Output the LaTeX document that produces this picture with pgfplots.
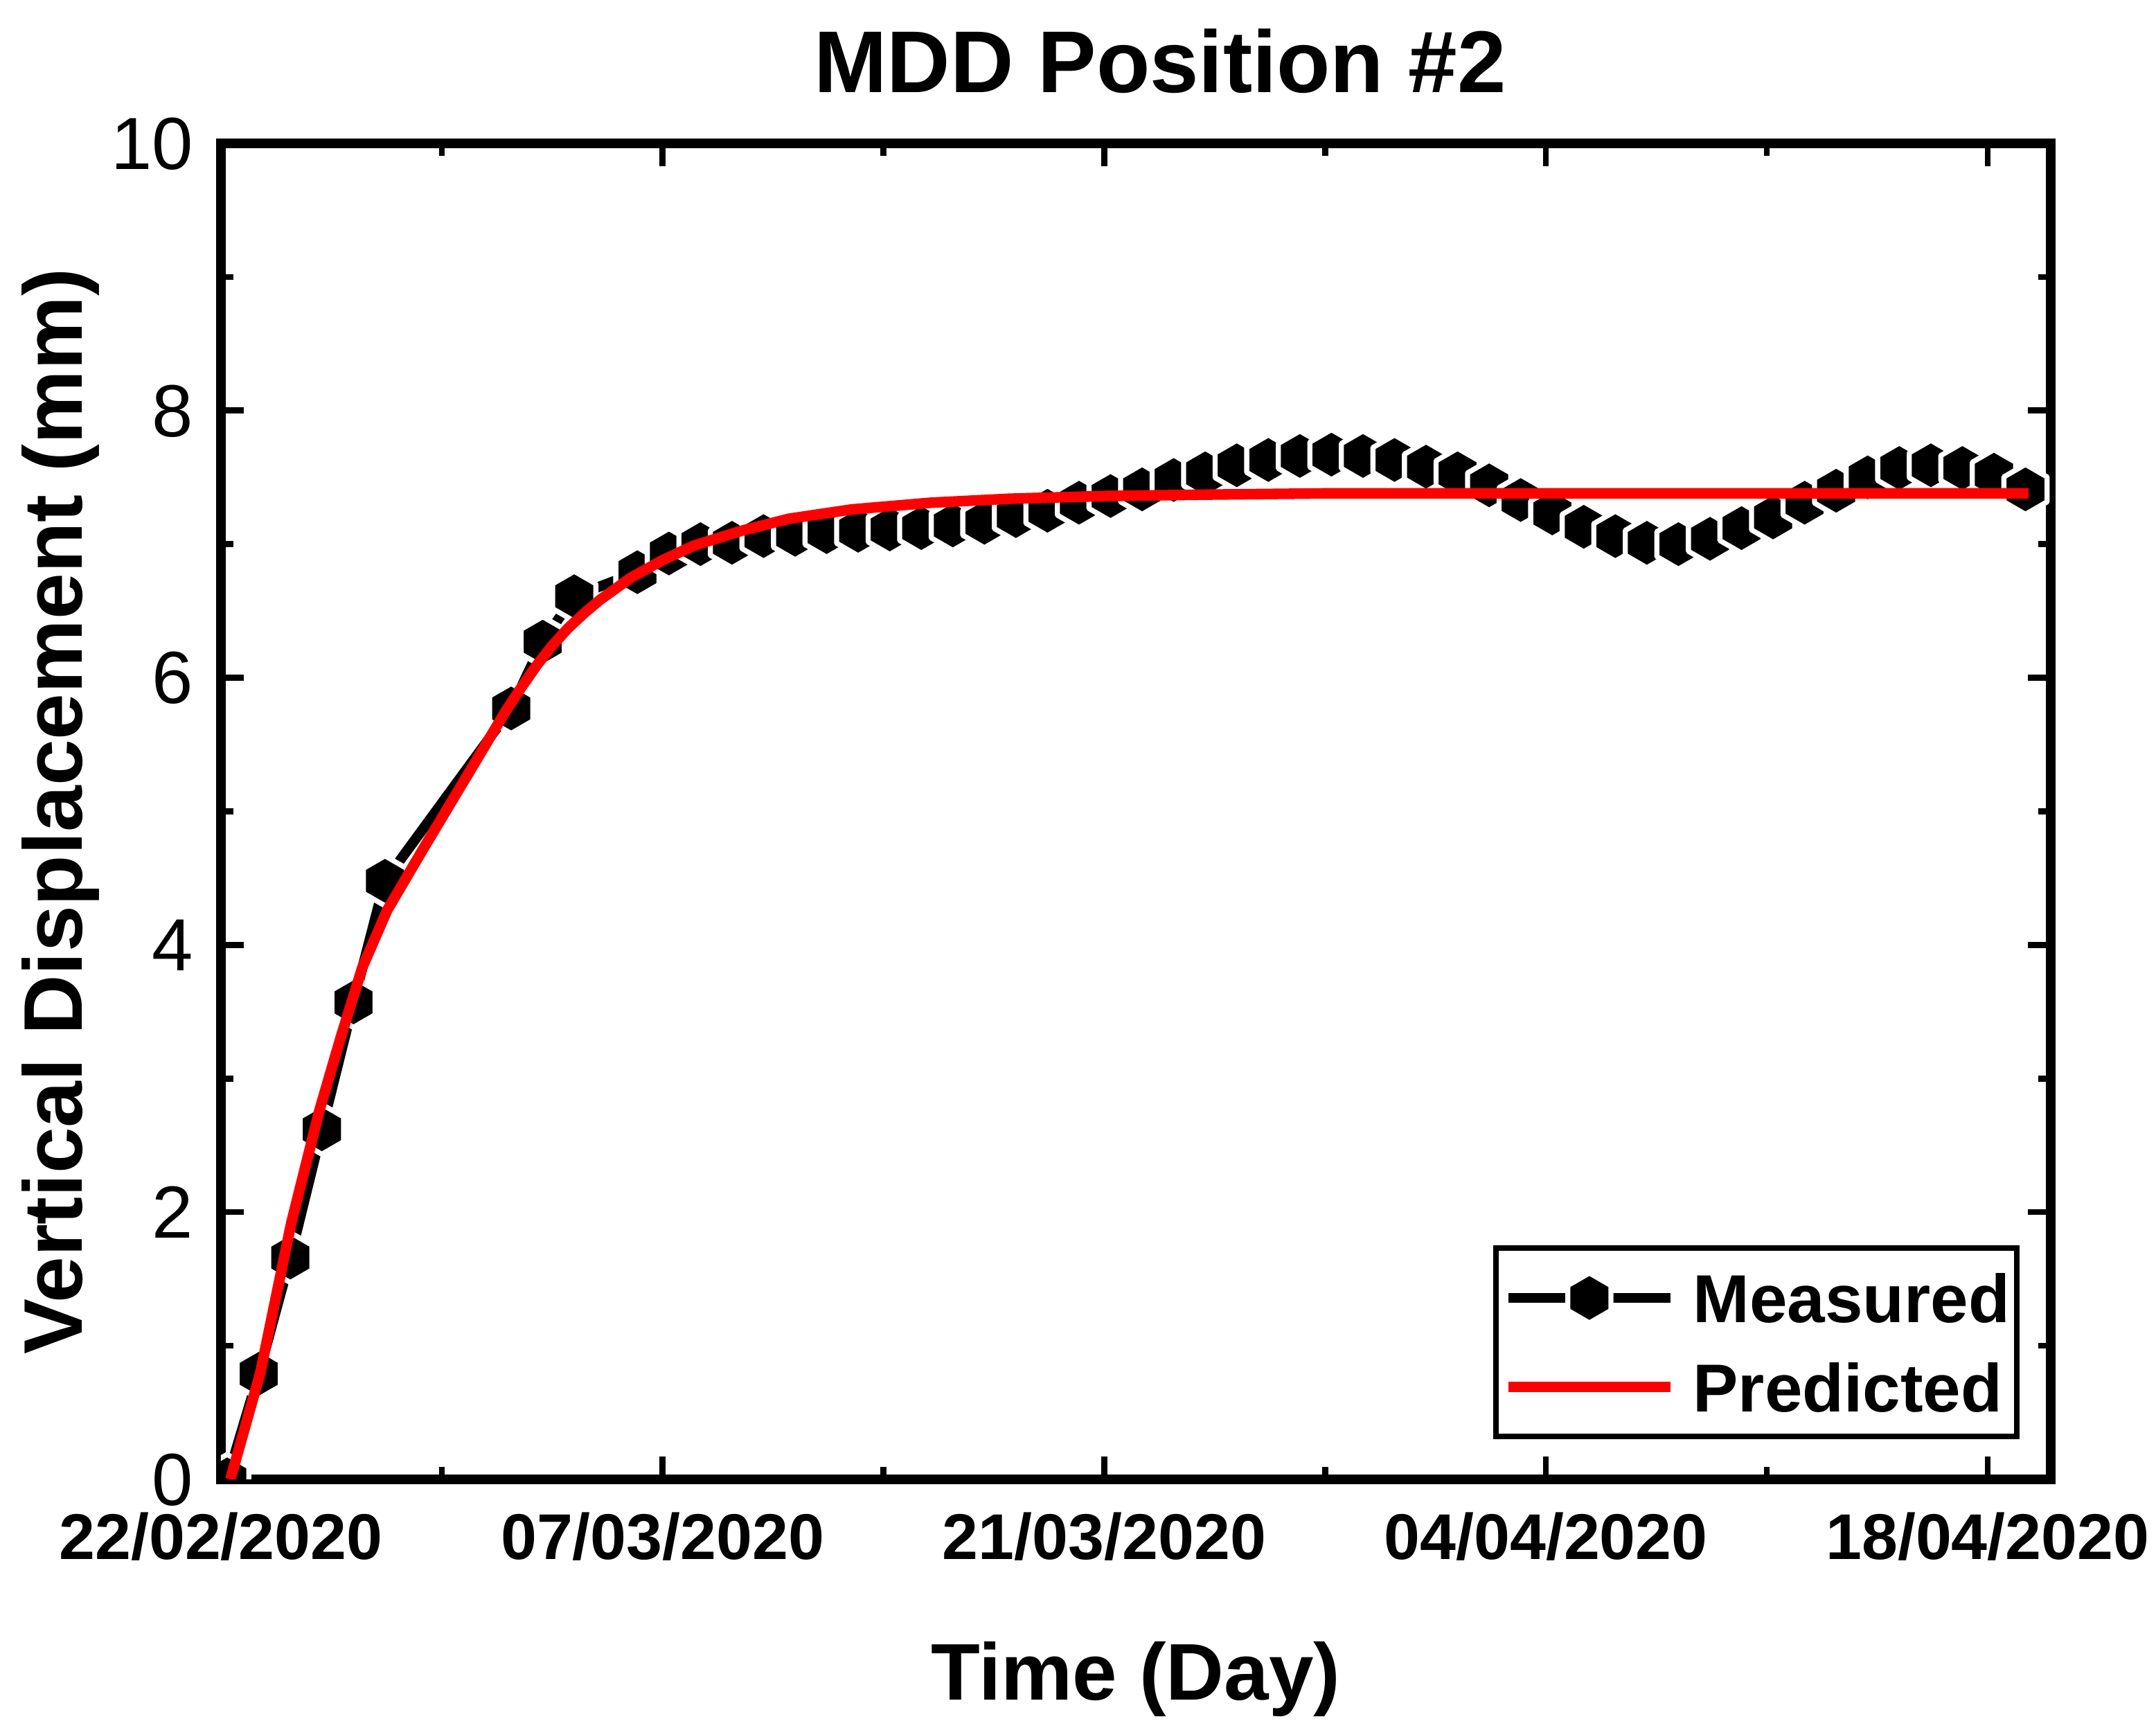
\documentclass[border=0pt]{standalone}
\usepackage{fontspec}
\setmainfont{Liberation Sans}
\usepackage{pgfplots}
\pgfplotsset{compat=1.18}
\usetikzlibrary{plotmarks}

% filled hexagon, vertex up
\pgfdeclareplotmark{hexagon*}{%
  \pgfpathmoveto{\pgfpointpolar{90}{\pgfplotmarksize}}%
  \pgfpathlineto{\pgfpointpolar{150}{\pgfplotmarksize}}%
  \pgfpathlineto{\pgfpointpolar{210}{\pgfplotmarksize}}%
  \pgfpathlineto{\pgfpointpolar{270}{\pgfplotmarksize}}%
  \pgfpathlineto{\pgfpointpolar{330}{\pgfplotmarksize}}%
  \pgfpathlineto{\pgfpointpolar{30}{\pgfplotmarksize}}%
  \pgfpathclose
  \pgfusepathqfillstroke
}
\definecolor{pred}{RGB}{255,0,0}

\begin{document}
\begin{tikzpicture}
\useasboundingbox (-47.85pt,-53.85pt) rectangle (419.1pt,320.4pt);
\begin{axis}[
    scale only axis,
    width=396.3pt, height=289.35pt,
    xmin=0, xmax=58, ymin=0, ymax=10,
    xtick={0,14,28,42,56},
    xticklabels={22/02/2020,07/03/2020,21/03/2020,04/04/2020,18/04/2020},
    minor xtick={7,21,35,49},
    ytick={0,2,4,6,8,10},
    minor ytick={1,3,5,7,9},
    tick align=inside,
    major tick length=5pt, minor tick length=2.7pt,
    every tick/.style={black, line width=1.3pt},
    axis line style={line width=2pt},
    /pgf/number format/assume math mode=true,
    xticklabel style={font=\fontsize{14}{16}\selectfont\bfseries, inner sep=0pt, yshift=-7pt},
    yticklabel style={font=\fontsize{16}{18}\selectfont, inner sep=0pt, text depth=0pt, xshift=-5.85pt},
    xlabel={Time (Day)},
    xlabel style={font=\fontsize{17.4}{20}\selectfont\bfseries, at={(axis description cs:0.5,-0.121)}, anchor=north, inner sep=0pt},
    ylabel={Vertical Displacement (mm)},
    ylabel style={font=\fontsize{18}{20}\selectfont\bfseries, at={(axis description cs:-0.1094,0.5)}, anchor=north, inner sep=0pt},
    title={MDD Position \#2},
    every axis title shift=0pt,
    title style={font=\fontsize{19}{22}\selectfont\bfseries, at={(axis description cs:0.5132,1)}, anchor=base, yshift=10.95pt, inner sep=0pt},
    clip marker paths=true,
    legend cell align=left,
    legend image code/.code={\draw[mark repeat=2,mark phase=2,#1] plot coordinates {(0pt,0pt) (17.6pt,0pt) (35.2pt,0pt)};},
    legend style={at={(axis description cs:0.983,0.030)}, anchor=south east,
        draw=black, line width=1.2pt, inner xsep=1.5pt, inner ysep=5.4pt, row sep=8.6pt,
        font=\fontsize{14.7}{17}\selectfont\bfseries,
        nodes={inner sep=0pt, text height=10.6pt, text depth=0pt},
        /tikz/every odd column/.append style={column sep=3.7pt}},
]
% measured, one reading a day
\addplot[black, line width=2.2pt, line join=round, mark=hexagon*, mark size=5.4pt,
    mark options={fill=black, draw=white, line width=1.1pt, solid}] table {
x y
0.2 0.00
1.2 0.79
2.2 1.66
3.2 2.62
4.2 3.57
5.2 4.48
9.2 5.77
10.2 6.27
11.2 6.61
13.2 6.79
14.2 6.93
15.2 7.00
16.2 7.01
17.2 7.06
18.2 7.07
19.2 7.09
20.2 7.10
21.2 7.11
22.2 7.12
23.2 7.14
24.2 7.16
25.2 7.21
26.2 7.25
27.2 7.31
28.2 7.36
29.2 7.41
30.2 7.48
31.2 7.53
32.2 7.59
33.2 7.63
34.2 7.66
35.2 7.67
36.2 7.66
37.2 7.63
38.2 7.58
39.2 7.53
40.2 7.44
41.2 7.33
42.2 7.23
43.2 7.13
44.2 7.06
45.2 7.01
46.2 7.00
47.2 7.04
48.2 7.12
49.2 7.20
50.2 7.31
51.2 7.40
52.2 7.50
53.2 7.57
54.2 7.59
55.2 7.57
56.2 7.52
57.2 7.41
};
\addlegendentry{Measured}
% predicted curve
\addplot[pred, line width=2.3pt, line join=round, no markers] table {
x y
0.3 0.00
1.25 0.80
2.23 1.92
3.12 2.76
3.80 3.31
4.48 3.83
5.27 4.26
6.44 4.73
7.71 5.23
9.00 5.74
9.50 5.92
10.00 6.09
10.50 6.24
11.00 6.37
11.50 6.48
12.00 6.58
13.00 6.75
14.00 6.88
15.00 6.99
16.50 7.10
18.00 7.19
20.00 7.26
22.50 7.31
25.00 7.34
28.00 7.36
31.00 7.37
35.00 7.38
57.30 7.38
};
\addlegendentry{Predicted}
\end{axis}
\end{tikzpicture}
\end{document}
